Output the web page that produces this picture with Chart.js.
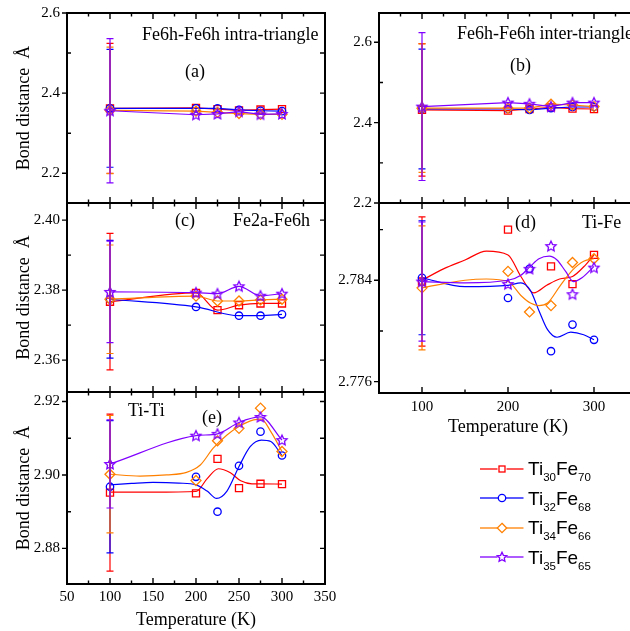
<!DOCTYPE html>
<html><head><meta charset="utf-8">
<script src="https://cdn.jsdelivr.net/npm/chart.js@4/dist/chart.umd.min.js"></script>
<style>
html,body{margin:0;padding:0;background:#fff;}
#wrap{position:relative;width:630px;height:631px;overflow:hidden;background:#fff;}
#wrap canvas{position:absolute;left:0;top:0;}
.lbl{position:absolute;font-family:'Liberation Serif','Times New Roman',serif;font-size:18px;line-height:18px;white-space:nowrap;color:#000;}
.leg{position:absolute;left:480px;height:20px;width:140px;white-space:nowrap;font-family:'Liberation Sans',Arial,sans-serif;font-size:19px;line-height:20px;color:#000;}
.leg svg{position:absolute;left:0;top:2.5px;}
.leg span{position:absolute;left:48px;top:0;}
.leg sub{font-size:11.5px;vertical-align:-5.7px;line-height:0;}
</style></head>
<body><div id="wrap">
<canvas id="cA" width="640" height="631"></canvas>
<canvas id="cB" width="640" height="631"></canvas>
<canvas id="cC" width="640" height="631"></canvas>
<canvas id="cD" width="640" height="631"></canvas>
<canvas id="cE" width="640" height="631"></canvas>
<div class="lbl" style="left:142px;top:25px">Fe6h-Fe6h intra-triangle</div>
<div class="lbl" style="left:185px;top:62px">(a)</div>
<div class="lbl" style="left:457px;top:24px">Fe6h-Fe6h inter-triangle</div>
<div class="lbl" style="left:510px;top:56px">(b)</div>
<div class="lbl" style="left:175px;top:211px">(c)</div>
<div class="lbl" style="left:233px;top:211px">Fe2a-Fe6h</div>
<div class="lbl" style="left:515px;top:213px">(d)</div>
<div class="lbl" style="left:582px;top:213px">Ti-Fe</div>
<div class="lbl" style="left:128px;top:401px">Ti-Ti</div>
<div class="lbl" style="left:202px;top:408px">(e)</div>
<div id="legend"></div>
</div>
<script>
// ---------- data ----------
const temps = [100, 200, 225, 250, 275, 300];

// (a) Fe6h-Fe6h intra-triangle
const aTi30Fe70 = [2.362, 2.363, 2.360, 2.357, 2.359, 2.360];
const aTi32Fe68 = [2.362, 2.362, 2.362, 2.358, 2.356, 2.355];
const aTi34Fe66 = [2.357, 2.355, 2.352, 2.349, 2.347, 2.347];
const aTi35Fe65 = [2.356, 2.346, 2.348, 2.354, 2.347, 2.348];
const errA = [0.162, 0.147, 0.158, 0.180];

// (b) Fe6h-Fe6h inter-triangle
const bTi30Fe70 = [2.432, 2.430, 2.434, 2.438, 2.435, 2.434];
const bTi32Fe68 = [2.434, 2.434, 2.432, 2.436, 2.439, 2.439];
const bTi34Fe66 = [2.436, 2.436, 2.436, 2.446, 2.444, 2.440];
const bTi35Fe65 = [2.440, 2.450, 2.447, 2.440, 2.450, 2.450];
const errB = [0.165, 0.149, 0.160, 0.184];

// (c) Fe2a-Fe6h
const cTi30Fe70 = [2.3767, 2.3792, 2.3743, 2.3757, 2.3762, 2.3762];
const cTi32Fe68 = [2.3774, 2.3752, null, 2.3727, 2.3727, 2.3731];
const cTi34Fe66 = [2.3774, 2.3783, 2.3769, 2.3769, 2.3772, 2.3774];
const cTi35Fe65 = [2.3795, 2.3793, 2.3790, 2.3811, 2.3784, 2.3790];
const errC = [0.0195, 0.0168, 0.0155, 0.0145];

// (d) Ti-Fe : points
const dTi30Fe70 = [2.7839, 2.7880, null, 2.7851, 2.7837, 2.7860];
const dTi32Fe68 = [2.7842, 2.7826, 2.7849, 2.7784, 2.7805, 2.7793];
const dTi34Fe66 = [2.7834, 2.7847, 2.7815, 2.7820, 2.7854, 2.7857];
const dTi35Fe65 = [2.7839, 2.7837, 2.7849, 2.7867, 2.7829, 2.7850];
const errD = [0.0051, 0.0045, 0.0049, 0.0047];
// (d) smoothed curves
const dCurveXTi30Fe70 = [100, 125, 150, 175, 200, 215, 230, 245, 260, 275, 290, 300];
const dCurveYTi30Fe70 = [2.7840, 2.7849, 2.7856, 2.7863, 2.7860, 2.7843, 2.7830, 2.7836, 2.7841, 2.7843, 2.7852, 2.7860];
const dCurveXTi32Fe68 = [100, 150, 200, 215, 226, 236, 246, 257, 273, 288, 300];
const dCurveYTi32Fe68 = [2.7842, 2.7835, 2.7836, 2.7838, 2.7832, 2.7816, 2.7801, 2.7795, 2.7799, 2.7797, 2.7793];
const dCurveXTi34Fe66 = [100, 150, 175, 200, 215, 226, 236, 246, 261, 275, 288, 300];
const dCurveYTi34Fe66 = [2.7834, 2.7840, 2.7841, 2.7839, 2.7828, 2.7822, 2.7820, 2.7822, 2.7836, 2.7848, 2.7855, 2.7857];
const dCurveXTi35Fe65 = [100, 150, 200, 215, 226, 236, 248, 257, 267, 276, 286, 300];
const dCurveYTi35Fe65 = [2.7839, 2.7838, 2.7840, 2.7844, 2.7851, 2.7857, 2.7859, 2.7856, 2.7847, 2.7839, 2.7842, 2.7851];

// (e) Ti-Ti : points
const eTi30Fe70 = [2.8952, 2.8950, 2.9044, 2.8964, 2.8976, 2.8975];
const eTi32Fe68 = [2.8968, 2.8995, 2.8900, 2.9025, 2.9118, 2.9053];
const eTi34Fe66 = [2.9002, 2.8985, 2.9093, 2.9127, 2.9182, 2.9064];
const eTi35Fe65 = [2.9030, 2.9107, 2.9112, 2.9143, 2.9158, 2.9095];
const errE = [0.0214, 0.0180, 0.0160, 0.0120];
// (e) smoothed curves
const eCurveXTi30Fe70 = [100, 150, 200, 213, 226, 240, 252, 265, 275, 300];
const eCurveYTi30Fe70 = [2.8953, 2.8953, 2.8955, 2.8990, 2.9017, 2.9006, 2.8984, 2.8976, 2.8976, 2.8975];
const eCurveXTi32Fe68 = [100, 125, 150, 180, 200, 213, 224, 236, 250, 263, 276, 287, 300];
const eCurveYTi32Fe68 = [2.8973, 2.8977, 2.8980, 2.8978, 2.8973, 2.8956, 2.8936, 2.8956, 2.9023, 2.9077, 2.9095, 2.9091, 2.9053];
const eCurveXTi34Fe66 = [100, 135, 166, 189, 205, 220, 236, 250, 267, 276, 287, 300];
const eCurveYTi34Fe66 = [2.9002, 2.8997, 2.9000, 2.9007, 2.9027, 2.9073, 2.9109, 2.9132, 2.9150, 2.9152, 2.9118, 2.9064];

// tick labels
const xTicksLeft = [50, 100, 150, 200, 250, 300, 350];
const xTicksRight = [100, 200, 300];
const yTicksA = [2.2, 2.4, 2.6];
const yTicksB = [2.2, 2.4, 2.6];
const yTicksC = [2.36, 2.38, 2.40];
const yTicksD = [2.776, 2.784];
const yTicksE = [2.88, 2.90, 2.92];

const legendSeries = [['30','70'], ['32','68'], ['34','66'], ['35','65']];

// ---------- styles ----------
const SERIF = "'Liberation Serif', 'Times New Roman', serif";
const COLORS = ['#ff0000', '#0000ff', '#ff8000', '#8000ff'];
function starCanvas(color) {
  const c = document.createElement('canvas'); c.width = 14; c.height = 14;
  const g = c.getContext('2d');
  g.beginPath();
  for (let i = 0; i < 10; i++) {
    const r = i % 2 === 0 ? 5.4 : 2.6;
    const ang = -Math.PI / 2 + i * Math.PI / 5;
    const px = 7 + r * Math.cos(ang), py = 7.4 + r * Math.sin(ang);
    if (i) g.lineTo(px, py); else g.moveTo(px, py);
  }
  g.closePath(); g.strokeStyle = color; g.lineWidth = 1.3; g.stroke();
  return c;
}
const STAR = starCanvas(COLORS[3]);
const STYLES = [
  {pointStyle: 'rect', pointRadius: 5},
  {pointStyle: 'circle', pointRadius: 3.7},
  {pointStyle: 'rectRot', pointRadius: 5},
  {pointStyle: STAR, pointRadius: 6}
];

function seriesDS(i, ys, opts) {
  return Object.assign({
    data: temps.map((t, k) => ({x: t, y: ys[k]})),
    borderColor: COLORS[i], backgroundColor: 'rgba(0,0,0,0)',
    pointBorderColor: COLORS[i], pointBackgroundColor: 'rgba(0,0,0,0)',
    pointBorderWidth: 1.3, borderWidth: 1.2,
    pointStyle: STYLES[i].pointStyle, pointRadius: STYLES[i].pointRadius,
    showLine: true, tension: 0, spanGaps: true, order: 10 - i * 2, fill: false
  }, opts || {});
}
function curveDS(i, xs, ys) {
  return {
    data: xs.map((x, k) => ({x: x, y: ys[k]})),
    borderColor: COLORS[i], backgroundColor: 'rgba(0,0,0,0)', borderWidth: 1.2,
    pointRadius: 0, showLine: true, cubicInterpolationMode: 'monotone',
    order: 11 - i * 2, fill: false
  };
}

function stepValues(min, max, step) {
  const out = [];
  const k0 = Math.ceil(min / step - 1e-7), k1 = Math.floor(max / step + 1e-7);
  for (let k = k0; k <= k1; k++) out.push({v: k * step, k: k});
  return out;
}

function framePlugin(c) {
  return {
    id: 'frame',
    afterDraw(chart) {
      const {ctx, chartArea: a, scales} = chart;
      const x = scales.x, y = scales.y;
      ctx.save();
      ctx.strokeStyle = '#000';
      ctx.lineWidth = 1.4;
      ctx.beginPath();
      const xr = Math.round(c.xMajor / c.xMinor);
      stepValues(c.xMin, c.xMax, c.xMinor).forEach(t => {
        const px = x.getPixelForValue(t.v);
        const L = (t.k % xr === 0) ? 6 : 3.5;
        ctx.moveTo(px, a.top); ctx.lineTo(px, a.top + L);
        ctx.moveTo(px, a.bottom); ctx.lineTo(px, a.bottom - L);
      });
      const yr = Math.round(c.yMajor / c.yMinor);
      stepValues(c.yMin, c.yMax, c.yMinor).forEach(t => {
        const py = y.getPixelForValue(t.v);
        if (t.k % yr === 0) { ctx.moveTo(a.left, py); ctx.lineTo(a.left - 5, py); }
        else { ctx.moveTo(a.left, py); ctx.lineTo(a.left + 4, py); }
        ctx.moveTo(a.right, py); ctx.lineTo(a.right - 5, py);
      });
      ctx.stroke();
      ctx.lineWidth = 2;
      ctx.strokeRect(a.left, a.top, a.right - a.left, a.bottom - a.top);
      ctx.restore();
    }
  };
}
function errorPlugin(c) {
  return {
    id: 'errbars',
    afterDatasetsDraw(chart) {
      const {ctx, scales} = chart;
      ctx.save();
      ctx.lineWidth = 1.2;
      c.errors.forEach(e => {
        const px = scales.x.getPixelForValue(temps[0]);
        const yTop = scales.y.getPixelForValue(e.ys[0] + e.err);
        const yBot = scales.y.getPixelForValue(e.ys[0] - e.err);
        ctx.strokeStyle = COLORS[e.i];
        ctx.beginPath();
        ctx.moveTo(px, yTop); ctx.lineTo(px, yBot);
        ctx.moveTo(px - 3.5, yTop); ctx.lineTo(px + 3.5, yTop);
        ctx.moveTo(px - 3.5, yBot); ctx.lineTo(px + 3.5, yBot);
        ctx.stroke();
      });
      ctx.restore();
    }
  };
}

function panel(id, c) {
  const Wy = c.yAxisW, Hx = c.showX ? c.xAxisH : 0;
  const pad = {left: c.area.left - Wy, top: c.area.top, right: 640 - c.area.right, bottom: 631 - c.area.bottom - Hx};
  return new Chart(document.getElementById(id), {
    type: 'line',
    data: {datasets: c.datasets},
    options: {
      responsive: false, animation: false, events: [],
      layout: {padding: pad, autoPadding: false},
      plugins: {legend: {display: false}, tooltip: {enabled: false}},
      scales: {
        x: {
          type: 'linear', position: 'bottom', min: c.xMin, max: c.xMax, display: c.showX,
          afterBuildTicks: s => { s.ticks = c.xTicks.map(v => ({value: v})); },
          afterFit: s => { s.height = Hx; s.paddingLeft = 0; s.paddingRight = 0; },
          grid: {display: false, drawTicks: false}, border: {display: false},
          ticks: {padding: c.xPad, font: {family: SERIF, size: 15}, color: '#000', maxRotation: 0, autoSkip: false, callback: v => String(v)},
          title: {display: c.showX, text: 'Temperature (K)', font: {family: SERIF, size: 18}, color: '#000', padding: {top: 0, bottom: 0}}
        },
        y: {
          type: 'linear', position: 'left', min: c.yMin, max: c.yMax,
          afterBuildTicks: s => { s.ticks = c.yTicks.map(v => ({value: v})); },
          afterFit: s => { s.width = Wy; s.paddingTop = 0; s.paddingBottom = 0; },
          grid: {display: false, drawTicks: false}, border: {display: false},
          ticks: {padding: 7, font: {family: SERIF, size: 15}, color: '#000', autoSkip: false, callback: v => Number(v).toFixed(c.dec)},
          title: {display: c.yTitle, text: 'Bond distance  \u00C5', font: {family: SERIF, size: 18}, color: '#000', padding: {top: 13, bottom: 0}}
        }
      }
    },
    plugins: [errorPlugin(c), framePlugin(c)]
  });
}

const LEFT = {left: 67, right: 325}, RIGHT = {left: 379, right: 637};

panel('cA', {
  area: {left: LEFT.left, right: LEFT.right, top: 13, bottom: 203}, yAxisW: 67, showX: false,
  xMin: 50, xMax: 350, xTicks: xTicksLeft, xMajor: 50, xMinor: 25, xPad: 4,
  yMin: 2.1257, yMax: 2.6, yTicks: yTicksA, yMajor: 0.2, yMinor: 0.1, dec: 1, yTitle: true,
  datasets: [seriesDS(0, aTi30Fe70), seriesDS(1, aTi32Fe68), seriesDS(2, aTi34Fe66), seriesDS(3, aTi35Fe65)],
  errors: [{i: 0, ys: aTi30Fe70, err: errA[0]}, {i: 1, ys: aTi32Fe68, err: errA[1]}, {i: 2, ys: aTi34Fe66, err: errA[2]}, {i: 3, ys: aTi35Fe65, err: errA[3]}]
});
panel('cB', {
  area: {left: RIGHT.left, right: RIGHT.right, top: 13, bottom: 203}, yAxisW: 60, showX: false,
  xMin: 50, xMax: 350, xTicks: xTicksRight, xMajor: 50, xMinor: 25, xPad: 5,
  yMin: 2.2, yMax: 2.673, yTicks: yTicksB, yMajor: 0.2, yMinor: 0.1, dec: 1, yTitle: false,
  datasets: [seriesDS(0, bTi30Fe70), seriesDS(1, bTi32Fe68), seriesDS(2, bTi34Fe66), seriesDS(3, bTi35Fe65)],
  errors: [{i: 0, ys: bTi30Fe70, err: errB[0]}, {i: 1, ys: bTi32Fe68, err: errB[1]}, {i: 2, ys: bTi34Fe66, err: errB[2]}, {i: 3, ys: bTi35Fe65, err: errB[3]}]
});
panel('cC', {
  area: {left: LEFT.left, right: LEFT.right, top: 203, bottom: 392}, yAxisW: 67, showX: false,
  xMin: 50, xMax: 350, xTicks: xTicksLeft, xMajor: 50, xMinor: 25, xPad: 4,
  yMin: 2.3509, yMax: 2.4049, yTicks: yTicksC, yMajor: 0.02, yMinor: 0.01, dec: 2, yTitle: true,
  datasets: [seriesDS(0, cTi30Fe70, {cubicInterpolationMode: 'monotone'}), seriesDS(1, cTi32Fe68, {cubicInterpolationMode: 'monotone'}),
             seriesDS(2, cTi34Fe66, {cubicInterpolationMode: 'monotone'}), seriesDS(3, cTi35Fe65, {cubicInterpolationMode: 'monotone'})],
  errors: [{i: 0, ys: cTi30Fe70, err: errC[0]}, {i: 1, ys: cTi32Fe68, err: errC[1]}, {i: 2, ys: cTi34Fe66, err: errC[2]}, {i: 3, ys: cTi35Fe65, err: errC[3]}]
});
panel('cD', {
  area: {left: RIGHT.left, right: RIGHT.right, top: 203, bottom: 393}, yAxisW: 60, showX: true, xAxisH: 45,
  xMin: 50, xMax: 350, xTicks: xTicksRight, xMajor: 100, xMinor: 50, xPad: 5,
  yMin: 2.7751, yMax: 2.7901, yTicks: yTicksD, yMajor: 0.008, yMinor: 0.004, dec: 3, yTitle: false,
  datasets: [
    seriesDS(0, dTi30Fe70, {showLine: false}), seriesDS(1, dTi32Fe68, {showLine: false}),
    seriesDS(2, dTi34Fe66, {showLine: false}), seriesDS(3, dTi35Fe65, {showLine: false}),
    curveDS(0, dCurveXTi30Fe70, dCurveYTi30Fe70), curveDS(1, dCurveXTi32Fe68, dCurveYTi32Fe68),
    curveDS(2, dCurveXTi34Fe66, dCurveYTi34Fe66), curveDS(3, dCurveXTi35Fe65, dCurveYTi35Fe65)
  ],
  errors: [{i: 0, ys: dTi30Fe70, err: errD[0]}, {i: 1, ys: dTi32Fe68, err: errD[1]}, {i: 2, ys: dTi34Fe66, err: errD[2]}, {i: 3, ys: dTi35Fe65, err: errD[3]}]
});
panel('cE', {
  area: {left: LEFT.left, right: LEFT.right, top: 392, bottom: 584}, yAxisW: 67, showX: true, xAxisH: 47,
  xMin: 50, xMax: 350, xTicks: xTicksLeft, xMajor: 50, xMinor: 25, xPad: 4,
  yMin: 2.8703, yMax: 2.9226, yTicks: yTicksE, yMajor: 0.02, yMinor: 0.01, dec: 2, yTitle: true,
  datasets: [
    seriesDS(0, eTi30Fe70, {showLine: false}), seriesDS(1, eTi32Fe68, {showLine: false}),
    seriesDS(2, eTi34Fe66, {showLine: false}), seriesDS(3, eTi35Fe65, {cubicInterpolationMode: 'monotone'}),
    curveDS(0, eCurveXTi30Fe70, eCurveYTi30Fe70), curveDS(1, eCurveXTi32Fe68, eCurveYTi32Fe68),
    curveDS(2, eCurveXTi34Fe66, eCurveYTi34Fe66)
  ],
  errors: [{i: 0, ys: eTi30Fe70, err: errE[0]}, {i: 1, ys: eTi32Fe68, err: errE[1]}, {i: 2, ys: eTi34Fe66, err: errE[2]}, {i: 3, ys: eTi35Fe65, err: errE[3]}]
});

// ---------- legend (HTML text with subscripts) ----------
function markerSVG(i) {
  const col = COLORS[i];
  let m;
  if (i === 0) m = `<rect x="19" y="4" width="6" height="6" fill="none" stroke="${col}" stroke-width="1.3"/>`;
  else if (i === 1) m = `<circle cx="22" cy="7" r="3.7" fill="none" stroke="${col}" stroke-width="1.3"/>`;
  else if (i === 2) m = `<polygon points="22,2.3 26.7,7 22,11.7 17.3,7" fill="none" stroke="${col}" stroke-width="1.3"/>`;
  else {
    const p = [];
    for (let k = 0; k < 10; k++) { const r = k % 2 === 0 ? 5 : 2.4; const a = -Math.PI / 2 + k * Math.PI / 5; p.push((22 + r * Math.cos(a)).toFixed(2) + ',' + (7.3 + r * Math.sin(a)).toFixed(2)); }
    m = `<polygon points="${p.join(' ')}" fill="none" stroke="${col}" stroke-width="1.3"/>`;
  }
  const lineL = i === 1 ? 18.3 : (i === 2 ? 17.3 : 17.5);
  const lineR = i === 1 ? 25.7 : (i === 2 ? 26.7 : 26.5);
  return `<svg width="46" height="14" viewBox="0 0 46 14"><line x1="0" y1="7" x2="${lineL}" y2="7" stroke="${col}" stroke-width="1.3"/><line x1="${lineR}" y1="7" x2="43.5" y2="7" stroke="${col}" stroke-width="1.3"/>${m}</svg>`;
}
const legendTops = [459, 488.5, 518, 547.5];
document.getElementById('legend').innerHTML = legendSeries.map((s, i) =>
  `<div class="leg" style="top:${legendTops[i]}px">${markerSVG(i)}<span>Ti<sub>${s[0]}</sub>Fe<sub>${s[1]}</sub></span></div>`
).join('');
</script>
</body></html>
